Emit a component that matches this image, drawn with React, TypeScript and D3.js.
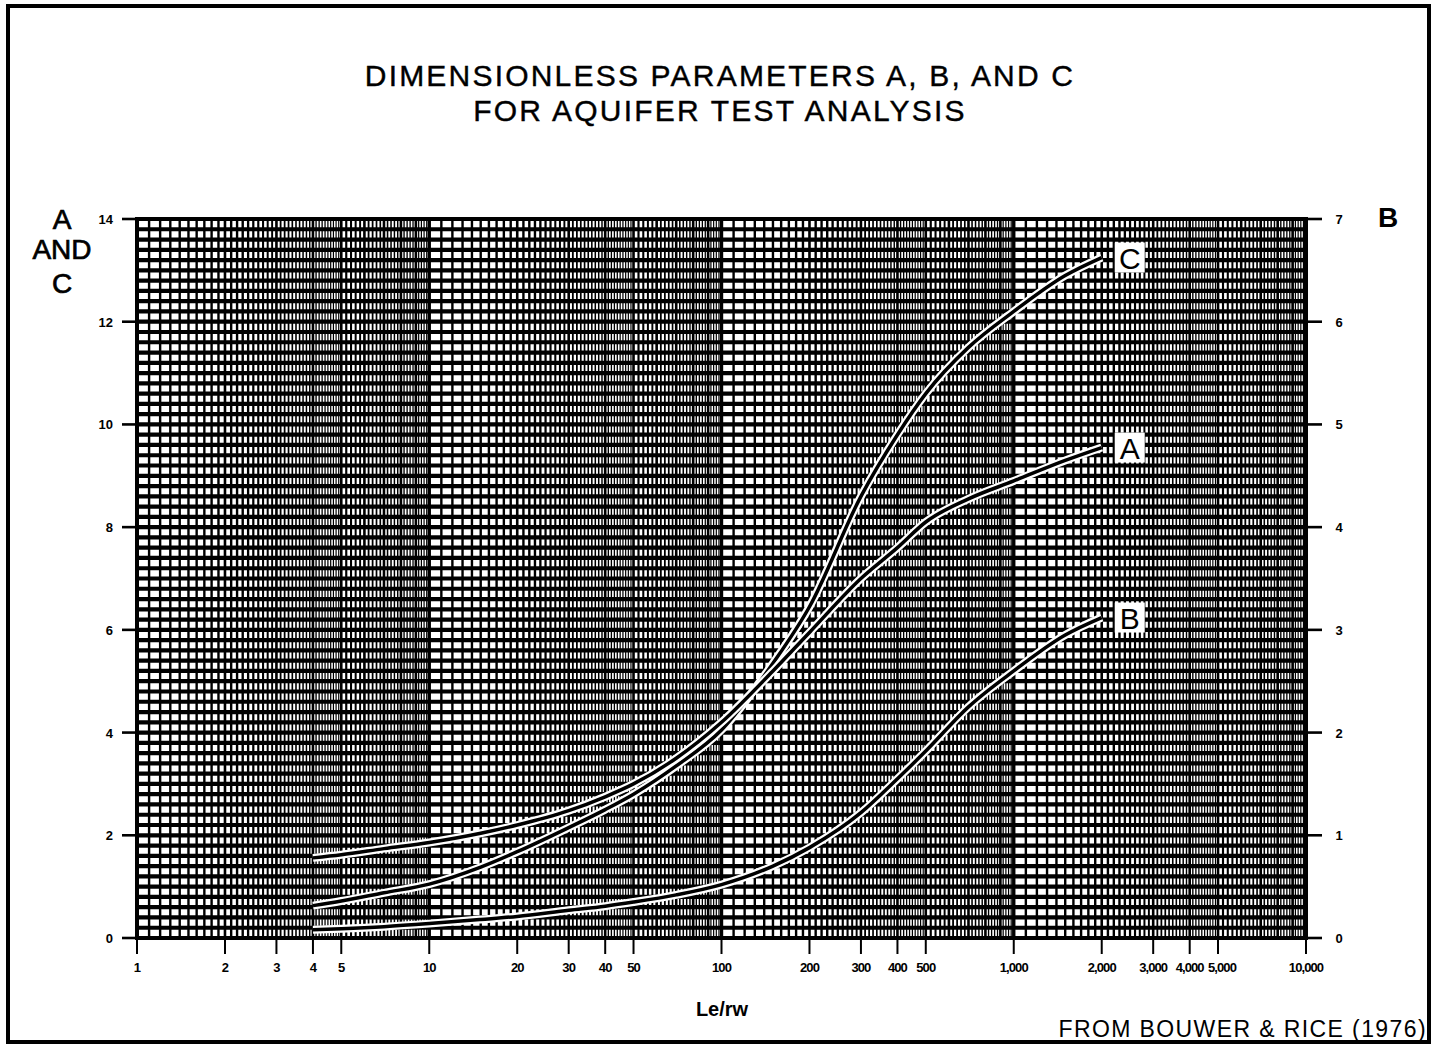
import * as d3 from "d3";

// Le/rw tick values and labels on the log axis
const X_TICKS = [1, 2, 3, 4, 5, 10, 20, 30, 40, 50, 100, 200, 300, 400, 500, 1000, 2000, 3000, 4000, 5000, 10000];
const X_TICK_LABELS = ["1", "2", "3", "4", "5", "10", "20", "30", "40", "50", "100", "200", "300", "400", "500", "1,000", "2,000", "3,000", "4,000", "5,000", "10,000"];
const LEFT_TICKS = [0, 2, 4, 6, 8, 10, 12, 14];
const RIGHT_TICKS = [0, 1, 2, 3, 4, 5, 6, 7];

// curve readings
const LE_RW = [4, 5, 7, 10, 15, 20, 30, 40, 50, 70, 100, 150, 200, 300, 400, 500, 700, 1000, 1500, 2000];
const A_VALUES = [1.56, 1.62, 1.74, 1.86, 2.04, 2.2, 2.48, 2.75, 3.0, 3.5, 4.2, 5.2, 5.95, 7.0, 7.6, 8.1, 8.55, 8.9, 9.3, 9.55];
const C_VALUES = [0.63, 0.72, 0.88, 1.05, 1.38, 1.68, 2.15, 2.5, 2.8, 3.35, 4.05, 5.35, 6.45, 8.6, 9.8, 10.6, 11.5, 12.2, 12.9, 13.25];
const B_VALUES = [0.08, 0.09, 0.11, 0.14, 0.18, 0.21, 0.27, 0.31, 0.35, 0.42, 0.52, 0.7, 0.88, 1.22, 1.55, 1.82, 2.25, 2.6, 2.95, 3.12];

const W = 1442;
const H = 1044;
const FONT = "'Liberation Sans', Arial, sans-serif";

export default function App() {
  const left = 137, right = 1306, top = 219, bottom = 938;
  const x = d3.scaleLog().domain([1, 10000]).range([left, right]);
  const yL = d3.scaleLinear().domain([0, 14]).range([bottom, top]);
  const yR = d3.scaleLinear().domain([0, 7]).range([bottom, top]);

  // graph-paper lines
  const hLines = d3.range(0, 71).map((i) => i * 0.2);
  const vLines: { v: number; w: number }[] = [];
  [1, 10, 100, 1000].forEach((dec) => {
    const mults = [
      ...d3.range(10, 20, 1).map((k) => k / 10),
      ...d3.range(20, 50, 1).map((k) => k / 10),
      ...d3.range(50, 100, 2).map((k) => k / 10),
    ];
    mults.forEach((m, i) => {
      const v = dec * m;
      const next = dec * (mults[i + 1] ?? 10);
      const pitch = x(next) - x(v);
      const isInt = Math.abs(m - Math.round(m)) < 1e-9;
      let w = Math.min(2.4, pitch * 0.45);
      if (isInt) w = Math.max(w, 2.6);
      if (m === 1) w = 3.4;
      vLines.push({ v, w });
    });
  });

  const lineL = d3
    .line<number>()
    .x((_, i) => x(LE_RW[i]))
    .y((d) => yL(d))
    .curve(d3.curveMonotoneX);
  const lineR = d3
    .line<number>()
    .x((_, i) => x(LE_RW[i]))
    .y((d) => yR(d))
    .curve(d3.curveMonotoneX);

  const curves = [
    { name: "C", d: lineL(C_VALUES) as string, end: yL(C_VALUES[C_VALUES.length - 1]) },
    { name: "A", d: lineL(A_VALUES) as string, end: yL(A_VALUES[A_VALUES.length - 1]) },
    { name: "B", d: lineR(B_VALUES) as string, end: yR(B_VALUES[B_VALUES.length - 1]) },
  ];
  const labelX = x(2000) + 28;

  return (
    <svg
      width={W}
      height={H}
      style={{ position: "absolute", left: 0, top: 0, background: "#fff" }}
      fontFamily={FONT}
    >
      <rect x={0} y={0} width={W} height={H} fill="#fff" />
      <rect x={8} y={6} width={1421} height={1036} fill="none" stroke="#000" strokeWidth={4} />

      <g textAnchor="middle" fontSize={30} letterSpacing={2.2} stroke="#000" strokeWidth={0.4}>
        <text x={720} y={86}>DIMENSIONLESS PARAMETERS A, B, AND C</text>
        <text x={720} y={121}>FOR AQUIFER TEST ANALYSIS</text>
      </g>

      <g fontSize={28} textAnchor="middle" stroke="#000" strokeWidth={0.7}>
        <text x={62} y={229}>A</text>
        <text x={62} y={259}>AND</text>
        <text x={62} y={293}>C</text>
      </g>
      <text x={1388} y={227} textAnchor="middle" fontSize={28} fontWeight="bold">B</text>

      {/* grid */}
      <g stroke="#000">
        {hLines.map((v, i) => (
          <line key={"h" + i} x1={left} x2={right} y1={yL(v)} y2={yL(v)} strokeWidth={4.2} />
        ))}
        {vLines.map((l, i) => (
          <line key={"v" + i} x1={x(l.v)} x2={x(l.v)} y1={top} y2={bottom} strokeWidth={l.w} />
        ))}
        <line x1={right} x2={right} y1={top} y2={bottom} strokeWidth={3.4} />
        <rect x={left} y={top} width={right - left} height={bottom - top} fill="none" strokeWidth={4} />
      </g>

      {/* curves */}
      {curves.map((c) => (
        <g key={c.name}>
          <path d={c.d} fill="none" stroke="#fff" strokeWidth={8} />
          <path d={c.d} fill="none" stroke="#000" strokeWidth={3.5} />
          <rect x={labelX - 15} y={c.end - 15} width={30} height={30} fill="#fff" />
          <text x={labelX} y={c.end + 11} textAnchor="middle" fontSize={30}>{c.name}</text>
        </g>
      ))}

      {/* left axis */}
      <g fontSize={13} fontWeight="bold" textAnchor="end">
        {LEFT_TICKS.map((t) => (
          <g key={"l" + t}>
            <line x1={122} x2={left} y1={yL(t)} y2={yL(t)} stroke="#000" strokeWidth={2.6} />
            <text x={113} y={yL(t) + 5}>{t}</text>
          </g>
        ))}
      </g>
      {/* right axis */}
      <g fontSize={13} fontWeight="bold" textAnchor="middle">
        {RIGHT_TICKS.map((t) => (
          <g key={"r" + t}>
            <line x1={right} x2={1322} y1={yR(t)} y2={yR(t)} stroke="#000" strokeWidth={2.6} />
            <text x={1339} y={yR(t) + 5}>{t}</text>
          </g>
        ))}
      </g>
      {/* bottom axis */}
      <g fontSize={13} fontWeight="bold" textAnchor="middle" letterSpacing={-0.9}>
        {X_TICKS.map((t, i) => (
          <g key={"x" + t}>
            <line x1={x(t)} x2={x(t)} y1={bottom} y2={954} stroke="#000" strokeWidth={2} />
            <text x={x(t) + (t === 5000 ? 4 : 0)} y={972}>{X_TICK_LABELS[i]}</text>
          </g>
        ))}
      </g>

      <text x={722} y={1016} textAnchor="middle" fontSize={20} fontWeight="bold">Le/rw</text>
      <text x={1427} y={1037} textAnchor="end" fontSize={23} letterSpacing={1.4}>
        FROM BOUWER &amp; RICE (1976)
      </text>
    </svg>
  );
}
